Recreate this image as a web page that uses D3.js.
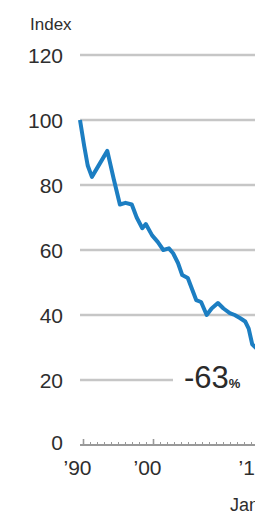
<!DOCTYPE html>
<html><head><meta charset="utf-8">
<script src="https://cdn.jsdelivr.net/npm/d3@7"></script>
<style>
html,body{margin:0;padding:0;background:#fff;overflow:hidden;}
svg{display:block;font-family:"Liberation Sans",Arial,sans-serif;}
</style></head>
<body>
<script>
const years  = [1989.5, 1990.1, 1990.6, 1991.2, 1992.3, 1993.4, 1994.3, 1995.2, 1996.0, 1996.9, 1997.6, 1998.4, 1998.9, 1999.8, 2000.6, 2001.4, 2002.2, 2002.8, 2003.5, 2004.1, 2004.9, 2005.5, 2006.1, 2006.8, 2007.6, 2008.3, 2009.2, 2010.0, 2010.9, 2011.6, 2012.4, 2013.1, 2013.6, 2014.1, 2014.8];
const values = [100, 92, 86, 82.5, 86.5, 90.5, 82, 74, 74.5, 74, 70, 66.7, 68, 64.5, 62.5, 60, 60.5, 59, 56, 52.3, 51.4, 48, 44.6, 44, 40, 42, 43.7, 42, 40.6, 40, 39, 38, 35.8, 31, 29.5];
const yTicks = [0, 20, 40, 60, 80, 100, 120];
const xTicks = [1990, 2000, 2015];
const xTickLabels = ["\u201990", "\u201900", "\u201915"];
const unitLabel = "Index";
const changeLabel = "-63";
const changeUnit = "%";
const footLabel = "Jan.";

const W = 255, H = 515;
const svg = d3.select("body").append("svg").attr("width", W).attr("height", H);

const x = d3.scaleLinear().domain([1990, 2015]).range([83.5, 258.5]);
const y = d3.scaleLinear().domain([0, 120]).range([445, 55]);

// gridlines
svg.append("g").selectAll("line").data(yTicks.filter(d => d > 0)).join("line")
  .attr("x1", 80).attr("x2", d => d === 20 ? 173 : W)
  .attr("y1", d => y(d)).attr("y2", d => y(d))
  .attr("stroke", "#c6c6c6").attr("stroke-width", 2.5);

// y labels
svg.append("g").selectAll("text").data(yTicks).join("text")
  .attr("x", 63).attr("y", d => y(d) + (d === 0 ? -3 : 0))
  .attr("dy", "0.36em").attr("text-anchor", "end")
  .attr("font-size", 21).attr("fill", "#2e2e2e")
  .text(d => d);

svg.append("text").attr("x", 30).attr("y", 30)
  .attr("font-size", 17).attr("fill", "#2e2e2e").text(unitLabel);

// x axis
const baseY = y(0);
svg.append("line").attr("x1", 80).attr("x2", W).attr("y1", baseY).attr("y2", baseY)
  .attr("stroke", "#999").attr("stroke-width", 2);
const minor = d3.range(1990, 2016);
svg.append("g").selectAll("line").data(minor).join("line")
  .attr("x1", d => x(d)).attr("x2", d => x(d))
  .attr("y1", baseY).attr("y2", d => xTicks.includes(d) ? baseY - 6 : baseY - 3)
  .attr("stroke", "#999").attr("stroke-width", d => xTicks.includes(d) ? 1.6 : 1);
svg.append("g").selectAll("text").data(xTicks).join("text")
  .attr("x", (d) => x(d) - 6).attr("y", 475)
  .attr("text-anchor", "middle").attr("font-size", 21).attr("fill", "#2e2e2e")
  .text((d, i) => xTickLabels[i]);

svg.append("text").attr("x", 230).attr("y", 511)
  .attr("font-size", 18).attr("fill", "#2e2e2e").text(footLabel);

// line
const line = d3.line().x((d, i) => x(years[i])).y(d => y(d));
svg.append("path").datum(values).attr("d", line)
  .attr("fill", "none").attr("stroke", "#1c7ec2").attr("stroke-width", 4)
  .attr("stroke-linejoin", "round").attr("stroke-linecap", "butt");

// annotation
const ann = svg.append("text").attr("x", 184).attr("y", 388).attr("fill", "#2a2a2a");
ann.append("tspan").attr("font-size", 31).text(changeLabel);
ann.append("tspan").attr("font-size", 13).attr("font-weight", "bold").text(changeUnit);
</script>
</body></html>
